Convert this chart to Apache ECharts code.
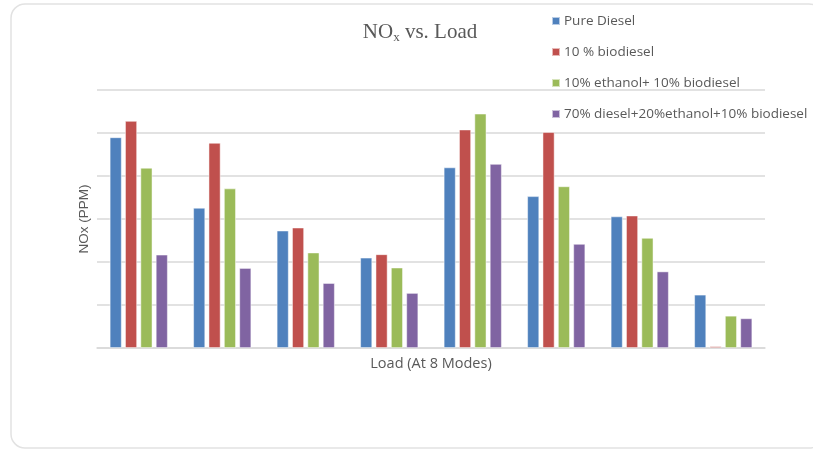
<!DOCTYPE html>
<html><head><meta charset="utf-8">
<script src="https://cdn.jsdelivr.net/npm/echarts@6/dist/echarts.min.js"></script>
<style>html,body{margin:0;padding:0;background:#fff}#c{width:813px;height:450px}</style>
</head><body><div id="c"></div>
<script>
const categories = ['Mode 1','Mode 2','Mode 3','Mode 4','Mode 5','Mode 6','Mode 7','Mode 8'];
const seriesNames = ['Pure Diesel','10 % biodiesel','10% ethanol+ 10% biodiesel','70% diesel+20%ethanol+10% biodiesel'];
const pureDiesel = [490, 326, 273, 210, 420, 353, 306, 124];
const bio10 = [528, 477, 280, 218, 508, 502, 308, 4];
const eth10bio10 = [419, 371, 222, 187, 545, 376, 256, 75];
const d70e20b10 = [217, 186, 151, 128, 428, 242, 178, 69];
const colors = ['#4F81BD','#C0504D','#9BBB59','#8064A2'];
const allData = [pureDiesel, bio10, eth10bio10, d70e20b10];

const chart = echarts.init(document.getElementById('c'));
chart.setOption({
  animation: false,
  graphic: [{
    type: 'rect', shape: {x: 11, y: 4, width: 812, height: 444, r: 14},
    style: {fill: 'none', stroke: '#e2e2e2', lineWidth: 1.5}, z: -1
  }],
  title: {
    text: '{a|NO}{s|x}{a| vs. Load}',
    left: 415, top: 15, textAlign: 'center',
    textStyle: {
      fontWeight: 'normal',
      rich: {
        a: {fontFamily: 'Liberation Serif', fontSize: 21, fontWeight: 'normal', color: '#595959'},
        s: {fontFamily: 'Liberation Serif', fontSize: 13, fontWeight: 'normal', color: '#595959', verticalAlign: 'bottom', padding: [11,0,0,0]}
      }
    }
  },
  legend: {
    orient: 'vertical', left: 551, top: 14, padding: 0,
    itemWidth: 8, itemHeight: 8, itemGap: 17,
    icon: 'rect',
    textStyle: {fontFamily: 'Open Sans', fontSize: 13.5, color: '#595959', padding: [0,0,0,-1]},
    data: seriesNames
  },
  grid: {left: 97, right: 48, top: 90, bottom: 102},
  xAxis: {
    type: 'category', data: categories,
    name: 'Load (At 8 Modes)', nameLocation: 'middle', nameGap: 8,
    nameTextStyle: {fontFamily: 'Open Sans', fontSize: 14.5, color: '#595959'},
    axisLine: {lineStyle: {color: '#d9d9d9', width: 1.5}},
    axisTick: {show: false}, axisLabel: {show: false}
  },
  yAxis: {
    type: 'value', min: 0, max: 600, interval: 100,
    name: 'NOx (PPM)', nameLocation: 'middle', nameGap: 6,
    nameTextStyle: {fontFamily: 'Liberation Sans', fontSize: 13.5, color: '#595959'},
    axisLine: {show: false}, axisTick: {show: false}, axisLabel: {show: false},
    splitLine: {lineStyle: {color: '#d9d9d9', width: 1.5}}
  },
  series: seriesNames.map((n, i) => ({
    name: n, type: 'bar', data: allData[i],
    barWidth: 12, barGap: '28%',
    itemStyle: {color: colors[i], borderColor: 'rgba(255,255,255,0.6)', borderWidth: 0.8}
  }))
});
</script></body></html>
